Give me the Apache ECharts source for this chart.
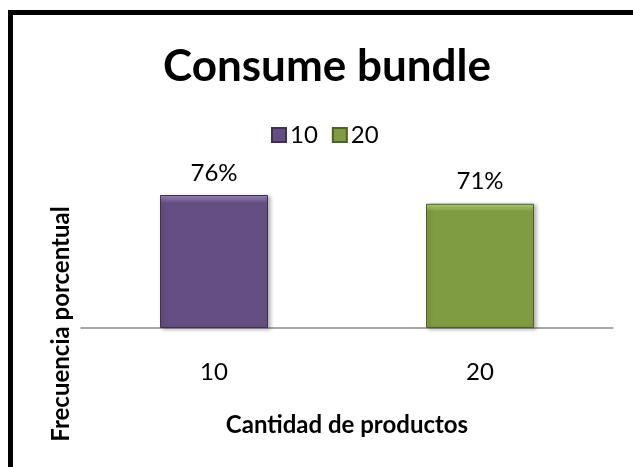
<!DOCTYPE html>
<html>
<head>
<meta charset="utf-8">
<script src="https://cdn.jsdelivr.net/npm/echarts@6/dist/echarts.min.js"></script>
<style>
  html, body { margin: 0; padding: 0; background: #fff; }
  #chart { width: 633px; height: 467px; }
</style>
</head>
<body>
<div id="chart"></div>
<script>
// Product quantities on the x axis and the share of shoppers for each
const categories = ['10', '20'];
const seriesNames = ['10', '20'];
const values = [76, 71];           // percent
const seriesColors = ['#654f82', '#7f9c42'];
const seriesLight = ['#a08cbc', '#bcd77c'];
const seriesDark = ['#3e3052', '#4c6027'];

const FONT = 'Lato, "Open Sans", sans-serif';

function bevelFill(base, light) {
  return {
    type: 'linear', x: 0, y: 0, x2: 0, y2: 1,
    colorStops: [
      { offset: 0, color: light },
      { offset: 0.06, color: base },
      { offset: 1, color: base }
    ]
  };
}

// Each series only fills its own category so both bars sit centred on their tick
const series = seriesNames.map((name, i) => ({
  name: name,
  type: 'bar',
  barWidth: 108,
  barGap: '-100%',
  data: categories.map((c, j) => (j === i ? values[i] : null)),
  itemStyle: {
    color: bevelFill(seriesColors[i], seriesLight[i]),
    borderColor: seriesDark[i],
    borderWidth: 1,
    shadowColor: 'rgba(0,0,0,0.3)',
    shadowBlur: 4,
    shadowOffsetX: 2,
    shadowOffsetY: 1
  },
  label: {
    show: true,
    position: 'top',
    distance: 10,
    formatter: '{c}%',
    fontFamily: FONT,
    fontSize: 24,
    color: '#000'
  }
}));

const chart = echarts.init(document.getElementById('chart'), null, { renderer: 'canvas' });
chart.setOption({
  animation: false,
  color: seriesColors,
  title: {
    text: 'Consume bundle',
    left: 322,
    textAlign: 'center',
    top: 40,
    textStyle: { fontFamily: FONT, fontWeight: 'bold', fontSize: 44, color: '#000' }
  },
  legend: {
    data: seriesNames,
    left: 266,
    top: 118,
    icon: 'rect',
    itemWidth: 14,
    itemHeight: 14,
    itemGap: 14,
    textStyle: { fontFamily: FONT, fontSize: 24, color: '#000', padding: [0, 0, 0, -1] }
  },
  grid: { left: 81, right: 20, top: 153, height: 175 },
  xAxis: {
    type: 'category',
    data: categories,
    axisLine: { lineStyle: { color: '#8c8c8c', width: 1.5 } },
    axisTick: { show: false },
    axisLabel: { fontFamily: FONT, fontSize: 24, color: '#000', margin: 32 },
    name: 'Cantidad de productos',
    nameLocation: 'middle',
    nameGap: 85,
    nameTextStyle: { fontFamily: FONT, fontSize: 24, fontWeight: 'bold', color: '#000' }
  },
  yAxis: {
    type: 'value',
    min: 0,
    max: 100,
    show: false
  },
  graphic: [
    {
      type: 'rect',
      shape: { x: 10.5, y: 12.5, width: 700, height: 600 },
      style: { fill: 'none', stroke: '#000', lineWidth: 5 },
      silent: true
    },
    {
      type: 'text',
      x: 61,
      y: 324,
      rotation: Math.PI / 2,
      style: {
        text: 'Frecuencia porcentual',
        fontFamily: FONT,
        fontSize: 24,
        fontWeight: 'bold',
        fill: '#000',
        align: 'center',
        verticalAlign: 'middle'
      }
    }
  ],
  series: series
});
</script>
</body>
</html>
